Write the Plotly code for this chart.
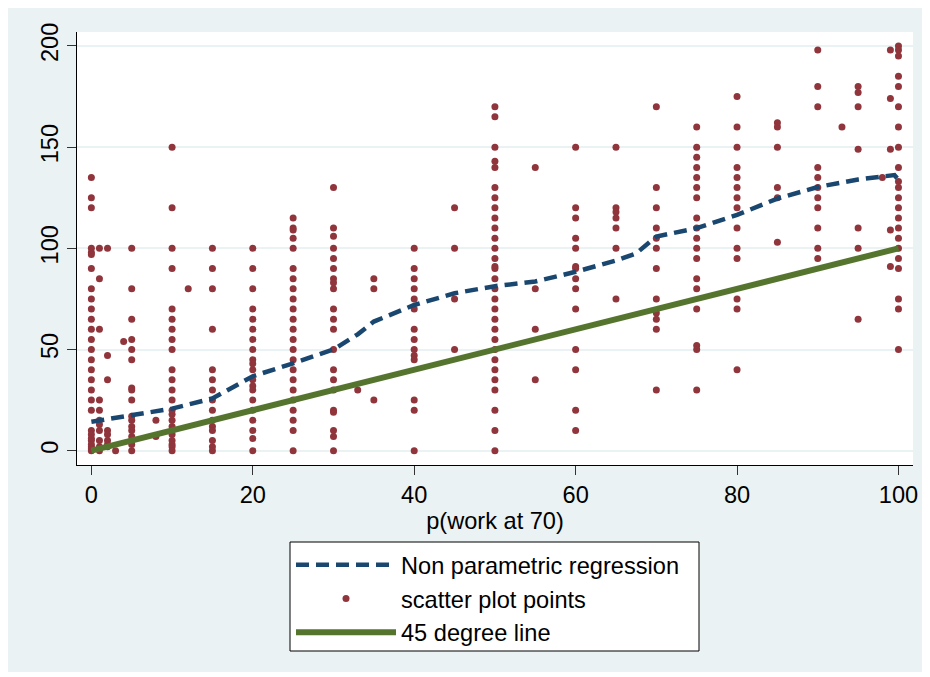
import plotly.graph_objects as go

# ---- data ----
column_x = [0, 1, 2, 3, 4, 5, 8, 10, 12, 15, 20, 25, 30, 33, 35, 40, 45, 50, 55,
            60, 65, 70, 75, 80, 85, 90, 93, 95, 98, 99, 100]
column_y = [
    [135, 125, 120, 100, 98, 97, 90, 80, 75, 70, 65, 60, 55, 50, 45, 40, 35, 30, 25, 20, 10, 8, 6, 5, 3, 2, 1, 0],
    [100, 85, 60, 25, 20, 15, 13, 10, 5, 2, 0],
    [100, 47, 35, 10, 8, 5, 3, 2],
    [0],
    [54],
    [100, 80, 65, 55, 50, 45, 31, 30, 25, 17, 15, 12, 10, 7, 5, 3, 0],
    [15, 7],
    [150, 120, 100, 90, 70, 65, 60, 55, 50, 40, 35, 30, 25, 20, 18, 15, 12, 10, 8, 5, 3, 2, 0],
    [80],
    [100, 90, 80, 60, 40, 35, 30, 25, 20, 15, 12, 10, 5, 2, 0],
    [100, 90, 80, 70, 65, 60, 55, 50, 45, 43, 40, 35, 32, 30, 25, 20, 15, 10, 6, 0],
    [115, 110, 109, 105, 100, 90, 85, 80, 75, 70, 65, 60, 55, 50, 45, 40, 35, 30, 25, 20, 15, 10, 0],
    [130, 110, 106, 100, 95, 90, 85, 83, 80, 70, 65, 60, 50, 40, 35, 30, 20, 19, 10, 7, 0],
    [30],
    [85, 80, 25],
    [100, 90, 85, 80, 75, 70, 60, 55, 50, 47, 45, 25, 20, 0],
    [120, 100, 75, 50],
    [170, 165, 150, 143, 140, 130, 125, 120, 115, 110, 105, 100, 95, 91, 90, 85, 80, 75, 70, 65,
     60, 55, 50, 45, 40, 35, 30, 20, 10, 0],
    [140, 80, 60, 35],
    [150, 120, 115, 105, 100, 91, 90, 85, 80, 70, 50, 40, 20, 10],
    [150, 120, 118, 115, 110, 100, 75],
    [170, 130, 120, 110, 105, 100, 90, 75, 68, 65, 60, 30],
    [160, 150, 145, 140, 135, 130, 125, 115, 110, 105, 100, 95, 85, 80, 70, 52, 50, 30],
    [175, 160, 150, 140, 135, 130, 125, 120, 110, 100, 95, 75, 70, 40],
    [162, 160, 150, 130, 125, 103],
    [198, 180, 170, 140, 135, 130, 125, 120, 110, 100, 95],
    [160],
    [180, 177, 170, 149, 110, 100, 65],
    [135],
    [198, 174, 149, 109, 91],
    [200, 198, 195, 185, 180, 170, 160, 150, 140, 133, 130, 125, 120, 115, 110, 105, 100, 95, 90, 75, 70, 50],
]

reg_x = [0, 5, 10, 15, 20, 25, 30, 33, 35, 40, 45, 50, 55, 60, 65, 67.5, 70, 75, 80, 85, 90, 95, 98, 99.5, 100]
reg_y = [14.3, 17.5, 20.8, 25.8, 36.8, 43.2, 50, 57.5, 63.8, 72, 77.8, 81.3, 83.6, 88.4, 94, 97.5,
         105.8, 110, 116.5, 124.6, 130.3, 134, 135.5, 136.2, 133.8]

line45_x = [0, 100]
line45_y = [0, 100]

x_ticks = [0, 20, 40, 60, 80, 100]
y_ticks = [0, 50, 100, 150, 200]

# ---- build ----
sc_x, sc_y = [], []
for xv, ys in zip(column_x, column_y):
    for yv in ys:
        sc_x.append(xv)
        sc_y.append(yv)

NAVY = "#1A476F"
MAROON = "#90353B"
GREEN = "#55752F"
BG = "#EAF2F3"
FONT = "Liberation Sans, Arial, sans-serif"
FS = 23.6

fig = go.Figure()
fig.add_trace(go.Scatter(
    x=sc_x, y=sc_y, mode="markers", name="scatter plot points",
    marker=dict(color=MAROON, size=7, line=dict(width=0)), legendrank=2))
fig.add_trace(go.Scatter(
    x=reg_x, y=reg_y, mode="lines", name="Non parametric regression",
    line=dict(color=NAVY, width=4.5, dash="13px,7px"), legendrank=1))
fig.add_trace(go.Scatter(
    x=line45_x, y=line45_y, mode="lines", name="45 degree line",
    line=dict(color=GREEN, width=6), legendrank=3))

OFF = 8  # page body margin
W, H = 930 - OFF, 677 - OFF
L, T = 77 - OFF, 32 - OFF
R, B = 17, 212
pw, ph = W - L - R, H - T - B

def px(xp):
    return (xp - OFF - L) / pw

def py(yp):
    return (H - B - (yp - OFF)) / ph

fig.update_layout(
    width=W, height=H,
    margin=dict(l=L, r=R, t=T, b=B, autoexpand=False),
    paper_bgcolor="white", plot_bgcolor="white",
    font=dict(family=FONT, size=FS, color="black"),
    showlegend=True,
    legend=dict(
        x=px(291), y=py(543), xanchor="left", yanchor="top",
        bgcolor="rgba(0,0,0,0)", borderwidth=0,
        font=dict(size=FS, family=FONT), itemwidth=100, traceorder="normal",
    ),
    shapes=[
        dict(type="rect", xref="paper", yref="paper", x0=px(7), x1=px(926), y0=py(672), y1=py(7),
             fillcolor=BG, line=dict(width=0), layer="below"),
        dict(type="rect", xref="paper", yref="paper", x0=0, x1=1, y0=0, y1=1,
             fillcolor="white", line=dict(width=0), layer="below"),
        dict(type="rect", xref="paper", yref="paper", x0=px(290), x1=px(699), y0=py(651), y1=py(542),
             fillcolor="white", line=dict(width=1, color="black"), layer="above"),
    ],
    xaxis=dict(
        range=[-1.78, 101.8], tickvals=x_ticks, ticktext=[str(v) for v in x_ticks],
        showgrid=False, zeroline=False, showline=True, linecolor="black", linewidth=1,
        ticks="outside", ticklen=9, tickcolor="#333", tickwidth=1,
        tickfont=dict(size=FS), ticklabelstandoff=0,
        title=dict(text="p(work at 70)", font=dict(size=FS), standoff=0),
        automargin=False,
    ),
    yaxis=dict(
        range=[-7.07, 206.9], tickvals=y_ticks, ticktext=[str(v) for v in y_ticks],
        showgrid=True, gridcolor=BG, gridwidth=2, zeroline=False,
        showline=True, linecolor="black", linewidth=1,
        ticks="outside", ticklen=9, tickcolor="#333", tickwidth=1,
        tickangle=-90, tickfont=dict(size=FS), automargin=False,
    ),
)

fig.write_html("out.html")
